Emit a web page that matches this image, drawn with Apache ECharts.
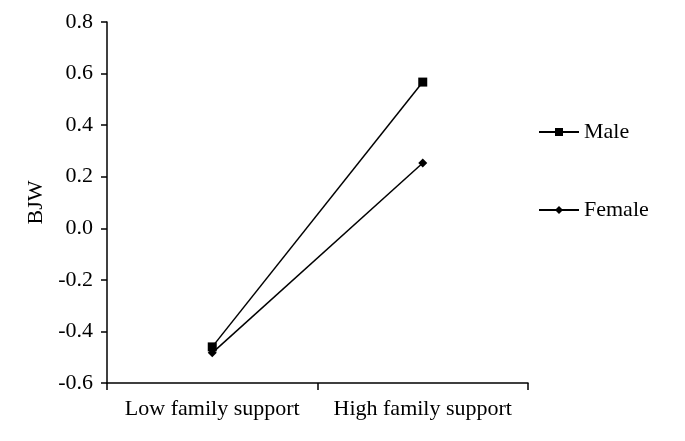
<!DOCTYPE html>
<html>
<head>
<meta charset="utf-8">
<script src="https://cdn.jsdelivr.net/npm/echarts@6/dist/echarts.min.js"></script>
<style>
  html, body { margin: 0; padding: 0; background: #fff; }
  #chart { width: 685px; height: 441px; }
</style>
</head>
<body>
<div id="chart"></div>
<script>
// categories on x axis
const categories = ["Low family support", "High family support"];
// series values (BJW)
const maleValues = [-0.46, 0.567];
const femaleValues = [-0.483, 0.253];

const chart = echarts.init(document.getElementById("chart"));
const font = "Liberation Serif";

const option = {
  animation: false,
  backgroundColor: "#fff",
  grid: { left: 107, right: 157, top: 22, bottom: 58 },
  legend: {
    orient: "vertical",
    left: 533,
    top: 116,
    itemGap: 56,
    itemWidth: 40,
    itemHeight: 10,
    itemStyle: { borderWidth: 0 },
    textStyle: { fontFamily: font, fontSize: 22, color: "#000" },
    data: ["Male", "Female"]
  },
  xAxis: {
    type: "category",
    data: categories,
    boundaryGap: true,
    axisLine: { onZero: false, lineStyle: { color: "#000", width: 1.5 } },
    axisTick: { show: true, interval: 0, length: 7, lineStyle: { color: "#000", width: 1.5 } },
    axisLabel: { interval: 0, hideOverlap: false, fontFamily: font, fontSize: 22, color: "#000", margin: 15 }
  },
  yAxis: {
    type: "value",
    min: -0.6,
    max: 0.8,
    interval: 0.2,
    name: "BJW",
    nameLocation: "middle",
    nameGap: 60,
    nameTextStyle: { fontFamily: font, fontSize: 22, color: "#000" },
    splitLine: { show: false },
    axisLine: { show: true, lineStyle: { color: "#000", width: 1.5 } },
    axisTick: { show: true, length: 6, lineStyle: { color: "#000", width: 1.5 } },
    axisLabel: {
      fontFamily: font, fontSize: 22, color: "#000", margin: 14,
      formatter: v => v.toFixed(1)
    }
  },
  series: [
    {
      name: "Male",
      type: "line",
      data: maleValues,
      symbol: "rect",
      symbolSize: 9,
      itemStyle: { color: "#000" },
      lineStyle: { color: "#000", width: 1.5 }
    },
    {
      name: "Female",
      type: "line",
      data: femaleValues,
      symbol: "diamond",
      symbolSize: 9,
      itemStyle: { color: "#000" },
      lineStyle: { color: "#000", width: 1.5 }
    }
  ]
};

chart.setOption(option);
</script>
</body>
</html>
